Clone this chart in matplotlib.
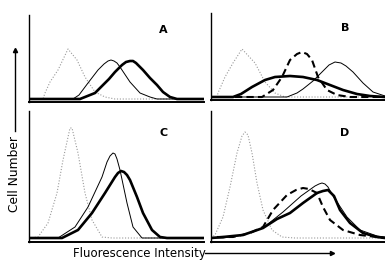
import numpy as np
import matplotlib.pyplot as plt

# values (channel, relative cell count)
a_ctrl_x = [0, 14, 16, 21, 29, 39, 48, 56, 66, 76, 86, 175]
a_ctrl_y = [0, 0, 6, 17, 29, 50, 39, 22, 7, 2, 0, 0]
a_thin_x = [0, 44, 50, 59, 69, 75, 79, 82, 85, 88, 91, 101, 111, 121, 128, 175]
a_thin_y = [0, 0, 4, 16, 29, 35, 38, 39, 38, 36, 32, 17, 6, 2, 0, 0]
a_thick_x = [0, 51, 56, 66, 74, 80, 86, 93, 97, 101, 104, 107, 114, 121, 128, 134, 141, 148, 175]
a_thick_y = [0, 0, 2, 6, 14, 20, 27, 34, 37, 38, 38, 36, 29, 21, 14, 7, 2, 0, 0]

b_ctrl_x = [0, 6, 7, 14, 22, 31, 44, 54, 64, 74, 174]
b_ctrl_y = [0, 0, 4, 20, 34, 48, 34, 15, 4, 0, 0]
b_dash_x = [24, 51, 62, 71, 79, 86, 91, 96, 101, 107, 116, 126, 139, 174]
b_dash_y = [0, 0, 7, 20, 37, 43, 45, 43, 37, 20, 7, 2, 0, 0]
b_thick_x = [0, 22, 30, 41, 54, 64, 79, 92, 106, 119, 132, 146, 159, 174]
b_thick_y = [0, 0, 3, 10, 17, 20, 21, 20, 17, 12, 7, 3, 1, 0]
b_thin_x = [0, 76, 86, 92, 102, 111, 118, 124, 130, 135, 142, 152, 162, 174]
b_thin_y = [0, 0, 4, 8, 16, 25, 32, 35, 34, 31, 25, 14, 5, 1]

c_ctrl_x = [0, 9, 19, 28, 34, 41, 43, 49, 56, 63, 73, 83, 175]
c_ctrl_y = [0, 1, 15, 45, 78, 110, 110, 85, 45, 18, 1, 0, 0]
c_thin_x = [0, 29, 46, 59, 73, 78, 81, 84, 86, 88, 91, 98, 104, 113, 175]
c_thin_y = [0, 0, 11, 31, 61, 76, 82, 85, 84, 79, 68, 35, 11, 0, 0]
c_thick_x = [0, 33, 49, 63, 76, 86, 89, 92, 95, 98, 101, 108, 114, 123, 131, 138, 175]
c_thick_y = [0, 0, 8, 25, 45, 61, 65, 67, 66, 63, 58, 41, 25, 8, 1, 0, 0]

d_ctrl_x = [0, 4, 12, 19, 26, 31, 34, 37, 41, 46, 52, 61, 71, 84, 174]
d_ctrl_y = [0, 3, 21, 51, 85, 102, 106, 103, 85, 55, 28, 8, 1, 0, 0]
d_dash_x = [6, 22, 39, 52, 62, 76, 85, 92, 98, 106, 112, 119, 132, 149, 166, 174]
d_dash_y = [1, 1, 5, 11, 28, 43, 48, 50, 49, 45, 31, 18, 8, 3, 1, 0]
d_thin_x = [0, 12, 32, 52, 72, 90, 104, 108, 111, 114, 117, 122, 128, 136, 149, 166, 174]
d_thin_y = [0, 0, 3, 10, 26, 42, 52, 54, 55, 54, 51, 42, 33, 21, 8, 2, 1]
d_thick_x = [0, 12, 32, 52, 66, 79, 92, 106, 112, 117, 123, 129, 139, 152, 166, 174]
d_thick_y = [0, 1, 3, 10, 19, 25, 35, 45, 47, 48, 42, 28, 15, 5, 1, 0]

W, H = 385, 262
fig = plt.figure(figsize=(W / 100, H / 100), dpi=100)

def box(left, right, top, bottom):
    return [left / W, 1 - bottom / H, (right - left) / W, (bottom - top) / H]

dot = dict(color='0.6', lw=0.8, ls=(0, (1, 1.6)))
thin = dict(color='black', lw=0.7)
thick = dict(color='black', lw=1.9)
dash = dict(color='black', lw=1.5, ls=(0, (3.5, 2)))

panels = [
    ('A', box(29, 204, 15, 102), 175, (-3, 84),
     [(a_ctrl_x, a_ctrl_y, dot), (a_thin_x, a_thin_y, thin), (a_thick_x, a_thick_y, thick)]),
    ('B', box(211, 385, 13, 100), 174, (-3, 84),
     [(b_ctrl_x, b_ctrl_y, dot), (b_dash_x, b_dash_y, dash), (b_thin_x, b_thin_y, thin),
      (b_thick_x, b_thick_y, thick)]),
    ('C', box(29, 204, 111, 242), 175, (-4, 127),
     [(c_ctrl_x, c_ctrl_y, dot), (c_thin_x, c_thin_y, thin), (c_thick_x, c_thick_y, thick)]),
    ('D', box(211, 385, 111, 242), 174, (-4, 127),
     [(d_ctrl_x, d_ctrl_y, dot), (d_dash_x, d_dash_y, dash), (d_thin_x, d_thin_y, thin),
      (d_thick_x, d_thick_y, thick)]),
]

for label, rect, xmax, ylim, curves in panels:
    ax = fig.add_axes(rect)
    for x, y, style in curves:
        ax.plot(x, y, solid_joinstyle='round', dash_joinstyle='round',
                solid_capstyle='round', **style)
    ax.set_xlim(0, xmax)
    ax.set_ylim(*ylim)
    ax.set_xticks([])
    ax.set_yticks([])
    for s in ['top', 'right']:
        ax.spines[s].set_visible(False)
    ax.spines['left'].set_linewidth(1.0)
    ax.spines['bottom'].set_linewidth(1.4)
    ax.text(0.77, 0.83, label, transform=ax.transAxes, fontsize=8,
            fontweight='bold', ha='center', va='center')

fig.text(73 / W, 1 - 253 / H, 'Fluorescence Intensity', fontsize=8.5,
         ha='left', va='center')
fig.add_artist(plt.Line2D([205 / W, 331 / W], [1 - 253 / H] * 2, color='black', lw=1.0))
fig.add_artist(plt.Line2D([332 / W], [1 - 253 / H], marker='>', markersize=3,
                          color='black', lw=0))
fig.text(15 / W, 1 - 174 / H, 'Cell Number', fontsize=8.8, rotation=90,
         ha='center', va='center')
fig.add_artist(plt.Line2D([15 / W] * 2, [1 - 131 / H, 1 - 52 / H], color='black', lw=1.0))
fig.add_artist(plt.Line2D([15 / W], [1 - 50 / H], marker='^', markersize=3,
                          color='black', lw=0))

plt.savefig('out.png', dpi=100)
